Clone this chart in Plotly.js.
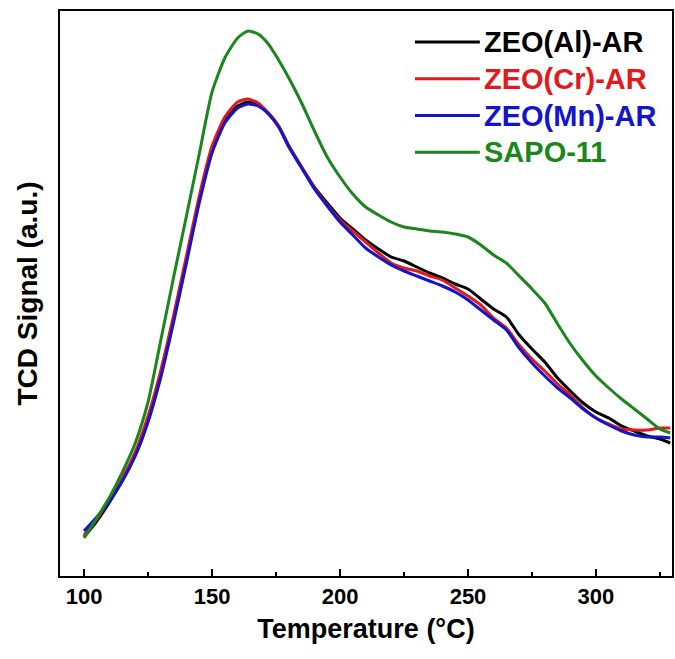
<!DOCTYPE html>
<html>
<head>
<meta charset="utf-8">
<script src="https://cdn.plot.ly/plotly-3.0.1.min.js"></script>
<style>html,body{margin:0;padding:0;background:#fff;}#chart{width:675px;height:659px;}</style>
</head>
<body>
<div id="chart"></div>
<script>
// Temperature grid (°C)
const temperature = [100,105,110,115,120,125,130,135,140,145,150,155,160,164,168,172,176,180,185,190,195,200,205,210,215,220,225,230,235,240,245,250,255,260,265,270,275,280,285,290,295,300,305,310,315,320,325,329];

// TCD signal (a.u.)
const zeoAl = [39,55,74,96,121,156,202,257,316,376,426,455,470,474,472,463,450,430,409,389,373,358,347,336,327,319,315,309,303,298,292,287,277,267,259,241,227,214,198,185,173,164,158,150,145,140,137,133];
const zeoCr = [41,57,76,98,124,160,206,261,320,380,430,459,474,477,473,463,450,430,409,388,371,356,345,334,323,313,308,305,300,296,288,280,271,258,248,231,217,205,192,181,168,158,152,147,146,146,148,148];
const zeoMn = [45,59,75,95,120,154,199,254,313,373,423,453,468,472,470,462,449,429,408,387,370,354,341,328,319,311,305,300,295,290,284,276,266,256,246,228,213,200,188,178,167,158,151,145,141,139,139,138];
const sapo11 = [38,58,79,104,133,174,236,299,360,422,484,518,538,545,542,532,516,498,473,445,419,399,382,369,361,354,349,347,345,344,342,339,331,321,313,300,287,273,252,232,215,200,188,177,167,157,147,143];

const seriesNames = ['ZEO(Al)-AR','ZEO(Cr)-AR','ZEO(Mn)-AR','SAPO-11'];
const seriesColors = ['#000000','#e3191c','#1414cc','#1b861b'];
const seriesValues = [zeoAl, zeoCr, zeoMn, sapo11];

const traces = seriesValues.map((vals, i) => ({
  x: temperature,
  y: vals,
  type: 'scatter',
  mode: 'lines',
  name: seriesNames[i],
  line: {color: seriesColors[i], width: 3, shape: 'spline', smoothing: 0.6},
  showlegend: false
}));

// manual legend (line segments + coloured labels)
const legendShapes = [];
const legendAnns = [];
const legTop = 0.945, legStep = 0.065;
seriesNames.forEach((n, i) => {
  const yy = legTop - i * legStep;
  legendShapes.push({type:'line', xref:'paper', yref:'paper', x0:0.58, x1:0.686, y0:yy, y1:yy,
    line:{color:seriesColors[i], width:3}});
  legendAnns.push({xref:'paper', yref:'paper', x:0.69, y:yy, xanchor:'left', yanchor:'middle',
    text:n, showarrow:false, font:{family:'Liberation Sans, Arial, sans-serif', size:29, color:seriesColors[i], weight:'bold'}});
});

const layout = {
  width: 675, height: 659,
  margin: {l: 60, r: 3, t: 11, b: 83},
  paper_bgcolor: '#fff', plot_bgcolor: '#fff',
  font: {family: 'Liberation Sans, Arial, sans-serif', color: '#000'},
  xaxis: {
    range: [90.6, 329.7],
    tickvals: [100,150,200,250,300],
    ticks: 'inside', ticklen: 7, tickwidth: 2, tickcolor: '#000',
    minor: {tickvals: [125,175,225,275,325], ticks: 'inside', ticklen: 4, tickwidth: 2, tickcolor: '#000'},
    showline: true, mirror: true, linewidth: 2, linecolor: '#000',
    showgrid: false, zeroline: false,
    tickfont: {size: 22, weight: 'bold'},
    title: {text: 'Temperature (°C)', font: {size: 27, weight: 'bold'}, standoff: 11}
  },
  yaxis: {
    range: [0, 565],
    showticklabels: false, ticks: '',
    showline: true, mirror: true, linewidth: 2, linecolor: '#000',
    showgrid: false, zeroline: false,
    title: {text: 'TCD Signal (a.u.)', font: {size: 28, weight: 'bold'}, standoff: 12}
  },
  shapes: legendShapes,
  annotations: legendAnns
};

Plotly.newPlot('chart', traces, layout, {displayModeBar: false, staticPlot: true});
</script>
</body>
</html>
